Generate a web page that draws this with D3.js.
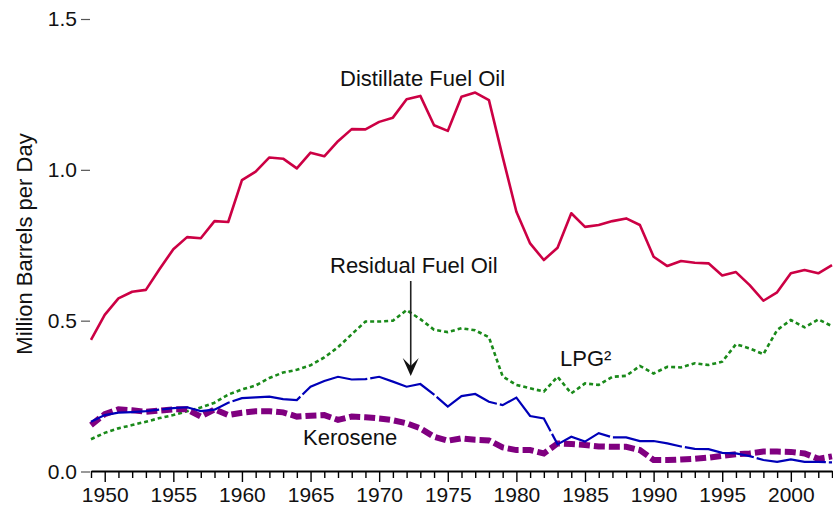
<!DOCTYPE html>
<html><head><meta charset="utf-8">
<script src="https://cdn.jsdelivr.net/npm/d3@7"></script>
<style>
html,body{margin:0;padding:0;background:#fff;}
svg{display:block;font-family:"Liberation Sans",Arial,sans-serif;}
</style></head>
<body><svg id="c" width="833" height="509"></svg>
<script>
const years = d3.range(1949, 2004);
const distillate = [0.436,0.519,0.574,0.596,0.602,0.671,0.737,0.777,0.773,0.830,0.827,0.966,0.994,1.041,1.037,1.005,1.057,1.045,1.095,1.135,1.134,1.159,1.173,1.234,1.245,1.148,1.129,1.242,1.256,1.231,1.043,0.861,0.756,0.701,0.742,0.856,0.811,0.817,0.830,0.839,0.817,0.712,0.681,0.698,0.692,0.690,0.650,0.661,0.618,0.566,0.594,0.657,0.668,0.657,0.684];
const lpg = [0.107,0.128,0.143,0.154,0.165,0.177,0.187,0.200,0.212,0.228,0.255,0.272,0.285,0.310,0.328,0.337,0.352,0.378,0.412,0.455,0.497,0.497,0.500,0.535,0.505,0.470,0.462,0.475,0.468,0.445,0.315,0.287,0.276,0.265,0.314,0.259,0.292,0.287,0.314,0.317,0.350,0.325,0.347,0.345,0.359,0.353,0.364,0.422,0.408,0.389,0.469,0.502,0.478,0.504,0.482];
const residual = [0.165,0.187,0.195,0.197,0.200,0.205,0.210,0.213,0.200,0.205,0.228,0.243,0.246,0.248,0.240,0.237,0.281,0.300,0.314,0.305,0.306,0.314,0.298,0.281,0.290,0.255,0.215,0.250,0.257,0.231,0.220,0.245,0.184,0.176,0.090,0.115,0.099,0.127,0.113,0.113,0.101,0.101,0.093,0.083,0.075,0.074,0.062,0.060,0.051,0.038,0.032,0.040,0.032,0.032,0.030];
const kerosene = [0.154,0.190,0.206,0.203,0.198,0.202,0.206,0.206,0.182,0.206,0.187,0.195,0.200,0.200,0.196,0.182,0.185,0.187,0.171,0.182,0.180,0.176,0.170,0.160,0.143,0.115,0.102,0.110,0.105,0.103,0.080,0.071,0.071,0.060,0.093,0.091,0.088,0.083,0.082,0.082,0.071,0.038,0.038,0.040,0.042,0.046,0.052,0.057,0.060,0.066,0.066,0.065,0.060,0.042,0.050];
const yTicks = [0, 0.5, 1.0, 1.5];
const xMajor = [1950,1955,1960,1965,1970,1975,1980,1985,1990,1995,2000];
const yTitle = "Million Barrels per Day";

const svg = d3.select("#c");
const x = d3.scaleLinear().domain([1949, 2003]).range([91, 832]);
const y = d3.scaleLinear().domain([0, 1.5]).range([471.5, 19]);

// Y axis
const ya = svg.append("g").attr("transform","translate(90,0)")
  .call(d3.axisLeft(y).tickValues(yTicks).tickFormat(d3.format(".1f")).tickSize(9).tickPadding(4));
ya.select(".domain").remove();
ya.selectAll(".tick line").attr("stroke","#555").attr("stroke-width",1.2);
ya.selectAll(".tick text").attr("font-size",21).attr("fill","#111").attr("font-family","Liberation Sans, Arial, sans-serif");

// X axis
const xa = svg.append("g").attr("transform","translate(0,471)")
  .call(d3.axisBottom(x).tickValues(years).tickFormat(d => xMajor.includes(d) ? d : "").tickSize(7).tickSizeOuter(0).tickPadding(9));
xa.select(".domain").attr("stroke","#000").attr("stroke-width",2.2);
xa.selectAll(".tick line").attr("stroke","#000").attr("stroke-width",1.4)
  .attr("y2", d => xMajor.includes(d) ? 11 : 7);
xa.selectAll(".tick text").attr("font-size",21).attr("fill","#111").attr("font-family","Liberation Sans, Arial, sans-serif");

// Y title
svg.append("text").attr("transform","translate(32,244) rotate(-90)")
  .attr("text-anchor","middle").attr("font-size",22).attr("fill","#111").text(yTitle);

const line = d3.line().x((d,i)=>x(years[i])).y(d=>y(d));

svg.append("path").datum(lpg).attr("d",line).attr("fill","none")
  .attr("stroke","#1a8a1a").attr("stroke-width",2.6).attr("stroke-dasharray","4,3");
svg.append("path").datum(kerosene).attr("d",line).attr("fill","none")
  .attr("stroke","#800080").attr("stroke-width",6).attr("stroke-dasharray","11,4");
svg.append("path").datum(residual).attr("d",line).attr("fill","none")
  .attr("stroke","#0000b8").attr("stroke-width",2.2).attr("stroke-dasharray","70,3");
svg.append("path").datum(distillate).attr("d",line).attr("fill","none")
  .attr("stroke","#cc0044").attr("stroke-width",2.6).attr("stroke-linejoin","round");

// Labels
const lab = (t, xx, yy) => svg.append("text").attr("x",xx).attr("y",yy).attr("font-size",22).attr("fill","#111").text(t);
lab("Distillate Fuel Oil", 340, 86);
lab("Residual Fuel Oil", 330, 273);
lab("Kerosene", 303, 445);
svg.append("text").attr("x",560).attr("y",366).attr("font-size",22).attr("fill","#111").text("LPG²");

// Arrow
const ax = x(1972.3);
svg.append("line").attr("x1",ax).attr("x2",ax).attr("y1",281).attr("y2",370).attr("stroke","#222").attr("stroke-width",1.6);
svg.append("path").attr("d",`M${ax},376 L${ax-8},358 L${ax},366 L${ax+8},358 Z`).attr("fill","#111");
</script></body></html>
